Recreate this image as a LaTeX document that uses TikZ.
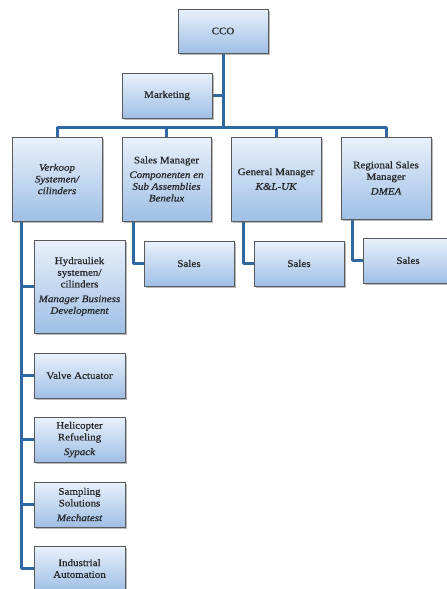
\documentclass[tikz,border=0pt]{standalone}
\usepackage{fontspec}
\setmainfont{Liberation Serif}[FakeStretch=1.1, UprightFeatures={FakeBold=0.6}, ItalicFeatures={FakeBold=0.6}]
\usetikzlibrary{shadows,backgrounds}
\definecolor{conncol}{HTML}{2F67A0}
\definecolor{boxtop}{HTML}{E9F1FB}
\definecolor{boxbot}{HTML}{9FBFE6}
\definecolor{boxline}{HTML}{5A5A5A}
\definecolor{txt}{HTML}{262626}
\tikzset{
  box/.style={rectangle, draw=boxline, line width=0.8pt, top color=boxtop, bottom color=boxbot,
    minimum width=90pt, minimum height=45pt, inner sep=1pt, align=center, text=txt,
    font=\fontsize{10}{11.7}\selectfont,
    drop shadow={shadow xshift=1.6pt, shadow yshift=-1.8pt, opacity=0.45, fill=black!60}},
  conn/.style={draw=conncol, line width=3pt, line join=round}
}
\begin{document}
\begin{tikzpicture}[x=1pt,y=-1pt]
\useasboundingbox (0,0) rectangle (447,589);
\clip (0,0) rectangle (447,589);
\node[box, minimum height=44pt] (cco) at (223,31) {CCO};
\node[box] (mkt) at (167,95.5) {Marketing};
\node[box, minimum height=84pt] (verkoop) at (57,179) {\itshape Verkoop\\\itshape Systemen/\\\itshape cilinders};
\node[box, minimum width=89pt, minimum height=84pt] (salesmgr) at (166.5,179) {Sales Manager\\[3pt]\itshape Componenten en\\\itshape Sub Assemblies\\\itshape Benelux};
\node[box, minimum height=84pt] (genmgr) at (276,179) {General Manager\\[3pt]\itshape K\&L-UK};
\node[box, minimum height=82pt] (regional) at (386,178) {Regional Sales\\Manager\\[3pt]\itshape DMEA};
\node[box] (sales1) at (189,263.5) {Sales};
\node[box] (sales2) at (299,263.5) {Sales};
\node[box] (sales3) at (408,260.5) {Sales};
\node[box, minimum width=91pt, minimum height=93pt] (hydr) at (79.5,286.5) {Hydrauliek\\systemen/\\cilinders\\[3pt]\itshape Manager Business\\\itshape Development};
\node[box, minimum width=91pt] (valve) at (79.5,375.5) {Valve Actuator};
\node[box, minimum width=91pt] (heli) at (79.5,439.5) {Helicopter\\Refueling\\[3pt]\itshape Sypack};
\node[box, minimum width=91pt] (sampl) at (79.5,504.5) {Sampling\\Solutions\\[3pt]\itshape Mechatest};
\node[box, minimum width=91pt] (indus) at (79.5,568.5) {Industrial\\Automation};
\begin{scope}[on background layer]
\coordinate (bar) at (223,127);
\draw[conn] (mkt.east) -| (cco.south);
\draw[conn] (cco.south) -- (bar);
\draw[conn] (verkoop.north) |- (bar) -| (regional.north);
\draw[conn] (salesmgr.north) -- (salesmgr.north |- bar);
\draw[conn] (genmgr.north) -- (genmgr.north |- bar);
\draw[conn] ([xshift=-33.5pt]salesmgr.south) |- (sales1.west);
\draw[conn] ([xshift=-33pt]genmgr.south) |- (sales2.west);
\draw[conn] ([xshift=-34pt]regional.south) |- (sales3.west);
\coordinate (lt) at ([xshift=-36pt]verkoop.south);
\draw[conn] (lt) |- (indus.west);
\draw[conn] (hydr.west) -- (hydr.west -| lt);
\draw[conn] (valve.west) -- (valve.west -| lt);
\draw[conn] (heli.west) -- (heli.west -| lt);
\draw[conn] (sampl.west) -- (sampl.west -| lt);
\end{scope}
\end{tikzpicture}
\end{document}
